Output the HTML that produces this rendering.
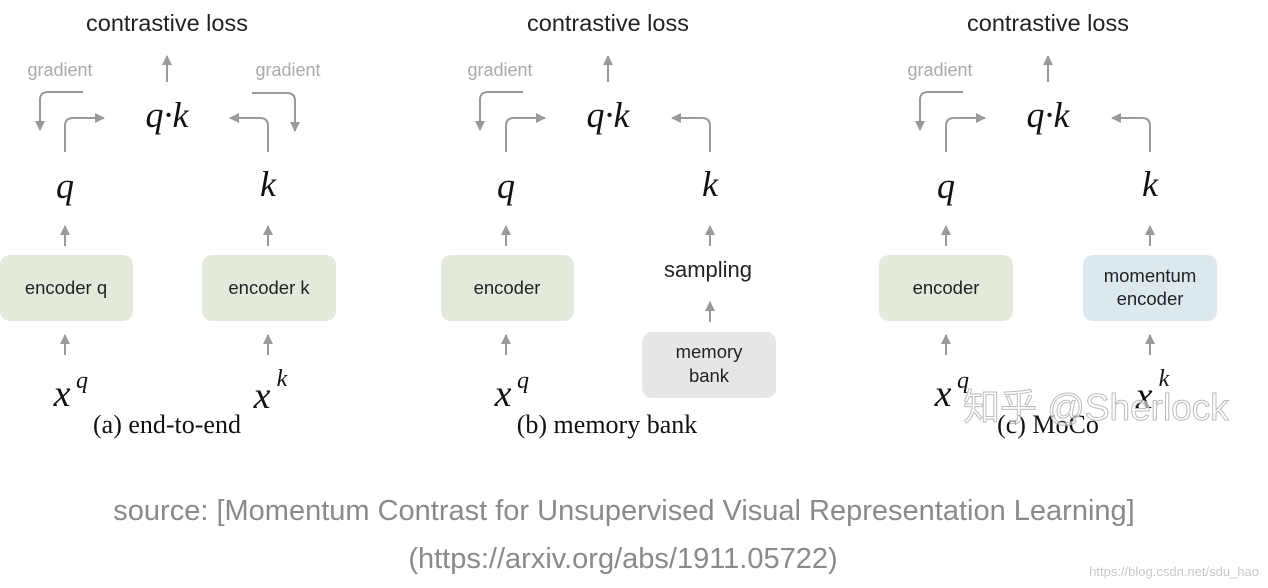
<!DOCTYPE html>
<html><head><meta charset="utf-8"><style>
html,body{margin:0;padding:0;background:#fff;width:1268px;height:588px;overflow:hidden}
svg text{font-family:"Liberation Sans",sans-serif}
.m{font-family:"Liberation Serif",serif;font-style:italic;fill:#111}
.cap{font-family:"Liberation Serif",serif;fill:#111;font-size:26px}
.ln{stroke:#9a9a9a;stroke-width:2;fill:none}
.g{fill:#aaa;font-size:18px}
</style></head><body>
<svg width="1268" height="588" viewBox="0 0 1268 588" xmlns="http://www.w3.org/2000/svg">
<defs>
<marker id="ah" viewBox="0 0 10 10" refX="9" refY="5" markerWidth="5" markerHeight="5" orient="auto"><path d="M0,0 L10,5 L0,10 z" fill="#9a9a9a"/></marker>
</defs>

<g id="pa">
<text x="167" y="31" font-size="23.5" text-anchor="middle" fill="#222">contrastive loss</text>
<path class="ln" d="M167,82 V56" marker-end="url(#ah)"/>
<text class="m" x="167" y="127" font-size="36" text-anchor="middle">q·k</text>
<path class="ln" d="M65,152 V126 Q65,118 73,118 H104" marker-end="url(#ah)"/>
<text class="m" x="65" y="198" font-size="36" text-anchor="middle">q</text>
<path class="ln" d="M65,246 V226" marker-end="url(#ah)"/>
<path class="ln" d="M65,355 V335" marker-end="url(#ah)"/>
<text class="m" x="62" y="406" font-size="38" text-anchor="middle">x</text>
<text class="m" x="82" y="388" font-size="24" text-anchor="middle">q</text>
</g>
<text class="g" x="60" y="76" text-anchor="middle">gradient</text>
<path class="ln" d="M83,92 H48 Q40,92 40,100 V130" marker-end="url(#ah)"/>
<path class="ln" d="M268,152 V126 Q268,118 260,118 H230" marker-end="url(#ah)"/>
<text class="g" x="288" y="76" text-anchor="middle">gradient</text>
<path class="ln" d="M252,93 H287 Q295,93 295,101 V131" marker-end="url(#ah)"/>
<text class="m" x="268" y="196" font-size="36" text-anchor="middle">k</text>
<path class="ln" d="M268,246 V226" marker-end="url(#ah)"/>
<path class="ln" d="M268,355 V335" marker-end="url(#ah)"/>
<text class="m" x="262" y="408" font-size="38" text-anchor="middle">x</text>
<text class="m" x="282" y="386" font-size="24" text-anchor="middle">k</text>
<rect x="0" y="255" width="133" height="66" rx="10" fill="#e3eadb"/>
<text x="66" y="294" font-size="18.5" text-anchor="middle" fill="#222">encoder q</text>
<rect x="202" y="255" width="134" height="66" rx="10" fill="#e3eadb"/>
<text x="269" y="294" font-size="18.5" text-anchor="middle" fill="#222">encoder k</text>
<text class="cap" x="167" y="433" text-anchor="middle">(a) end-to-end</text>

<use href="#pa" x="441"/>
<text class="g" x="500" y="76" text-anchor="middle">gradient</text>
<path class="ln" d="M523,92 H488 Q480,92 480,100 V130" marker-end="url(#ah)"/>
<path class="ln" d="M710,152 V126 Q710,118 702,118 H672" marker-end="url(#ah)"/>
<text class="m" x="710" y="196" font-size="36" text-anchor="middle">k</text>
<path class="ln" d="M710,246 V226" marker-end="url(#ah)"/>
<text x="708" y="277" font-size="22" text-anchor="middle" fill="#222">sampling</text>
<path class="ln" d="M710,322 V302" marker-end="url(#ah)"/>
<rect x="441" y="255" width="133" height="66" rx="10" fill="#e3eadb"/>
<text x="507" y="294" font-size="18.5" text-anchor="middle" fill="#222">encoder</text>
<rect x="642" y="332" width="134" height="66" rx="10" fill="#e6e6e6"/>
<text x="709" y="358" font-size="18.5" text-anchor="middle" fill="#222">memory</text>
<text x="709" y="382" font-size="18.5" text-anchor="middle" fill="#222">bank</text>
<text class="cap" x="607" y="433" text-anchor="middle">(b) memory bank</text>

<use href="#pa" x="881"/>
<text class="g" x="940" y="76" text-anchor="middle">gradient</text>
<path class="ln" d="M963,92 H928 Q920,92 920,100 V130" marker-end="url(#ah)"/>
<path class="ln" d="M1150,152 V126 Q1150,118 1142,118 H1112" marker-end="url(#ah)"/>
<text class="m" x="1150" y="196" font-size="36" text-anchor="middle">k</text>
<path class="ln" d="M1150,246 V226" marker-end="url(#ah)"/>
<path class="ln" d="M1150,355 V335" marker-end="url(#ah)"/>
<text class="m" x="1144" y="408" font-size="38" text-anchor="middle">x</text>
<text class="m" x="1164" y="386" font-size="24" text-anchor="middle">k</text>
<rect x="879" y="255" width="134" height="66" rx="10" fill="#e3eadb"/>
<text x="946" y="294" font-size="18.5" text-anchor="middle" fill="#222">encoder</text>
<rect x="1083" y="255" width="134" height="66" rx="10" fill="#dde8ee"/>
<text x="1150" y="282" font-size="18.5" text-anchor="middle" fill="#222">momentum</text>
<text x="1150" y="305" font-size="18.5" text-anchor="middle" fill="#222">encoder</text>
<text class="cap" x="1048" y="433" text-anchor="middle">(c) MoCo</text>
<text x="963" y="420" font-size="37" fill="#fff" fill-opacity="0.55" stroke="#bbb" stroke-width="1" style='font-family:"Liberation Sans","Noto Sans CJK SC",sans-serif'>知乎 @Sherlock</text>

<text x="624" y="520" font-size="29" text-anchor="middle" fill="#8a8a8a">source: [Momentum Contrast for Unsupervised Visual Representation Learning]</text>
<text x="623" y="568" font-size="29" text-anchor="middle" fill="#8a8a8a">(https://arxiv.org/abs/1911.05722)</text>
<text x="1259" y="576" font-size="13" text-anchor="end" fill="#c8c8c8">https://blog.csdn.net/sdu_hao</text>
</svg>
</body></html>
